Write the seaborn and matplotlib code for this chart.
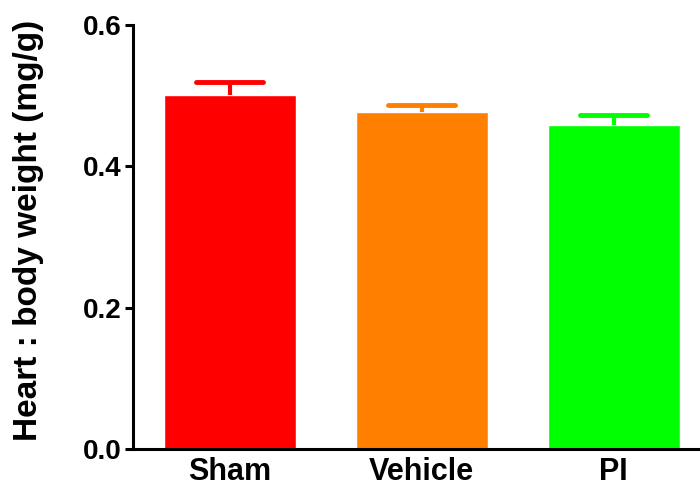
import matplotlib
matplotlib.use("Agg")
import matplotlib.pyplot as plt
import seaborn as sns
import pandas as pd

groups = ["Sham", "Vehicle", "PI"]
means = [0.501, 0.477, 0.458]
sem = [0.019, 0.010, 0.014]
colors = ["#FF0000", "#FF8000", "#00FF00"]

sns.set_style("ticks")
plt.rcParams["font.family"] = ["Liberation Sans", "DejaVu Sans"]
plt.rcParams["font.weight"] = "bold"
plt.rcParams["text.color"] = "black"
plt.rcParams["axes.labelcolor"] = "black"
plt.rcParams["xtick.color"] = "black"
plt.rcParams["ytick.color"] = "black"

fig = plt.figure(figsize=(7, 4.91), dpi=100)
ax = fig.add_axes([0.19, 0.0855, 0.81, 0.8635])

df = pd.DataFrame({"group": groups, "value": means})
sns.barplot(data=df, x="group", y="value", hue="group", palette=colors,
            width=0.6875, errorbar=None, legend=False, ax=ax, saturation=1)

cap_half = 0.175
for i, (m, e, c) in enumerate(zip(means, sem, colors)):
    ax.vlines(i, m, m + e, color=c, linewidth=3, zorder=3)
    ax.hlines(m + e, i - cap_half, i + cap_half, color=c, linewidth=3.5,
              capstyle="round", zorder=3)

ax.set_xlim(-0.505, 2.45)
ax.set_ylim(0, 0.6)
ax.set_yticks([0.0, 0.2, 0.4, 0.6])
ax.set_yticklabels(["0.0", "0.2", "0.4", "0.6"])
ax.set_xlabel("")
ax.set_ylabel("Heart : body weight (mg/g)", fontsize=24, fontweight="bold",
              color="black", va="center")
ax.yaxis.set_label_coords(-0.185, 0.516)
ax.tick_params(axis="y", labelsize=20, width=2.2, length=6, direction="out", pad=2,
               colors="black")
ax.tick_params(axis="x", labelsize=22, length=0, pad=6, colors="black")
for lab in ax.get_xticklabels() + ax.get_yticklabels():
    lab.set_fontweight("bold")
for s in ["left", "bottom"]:
    ax.spines[s].set_linewidth(2.2)
    ax.spines[s].set_color("black")
sns.despine(ax=ax)

fig.savefig("out.png", dpi=100)
